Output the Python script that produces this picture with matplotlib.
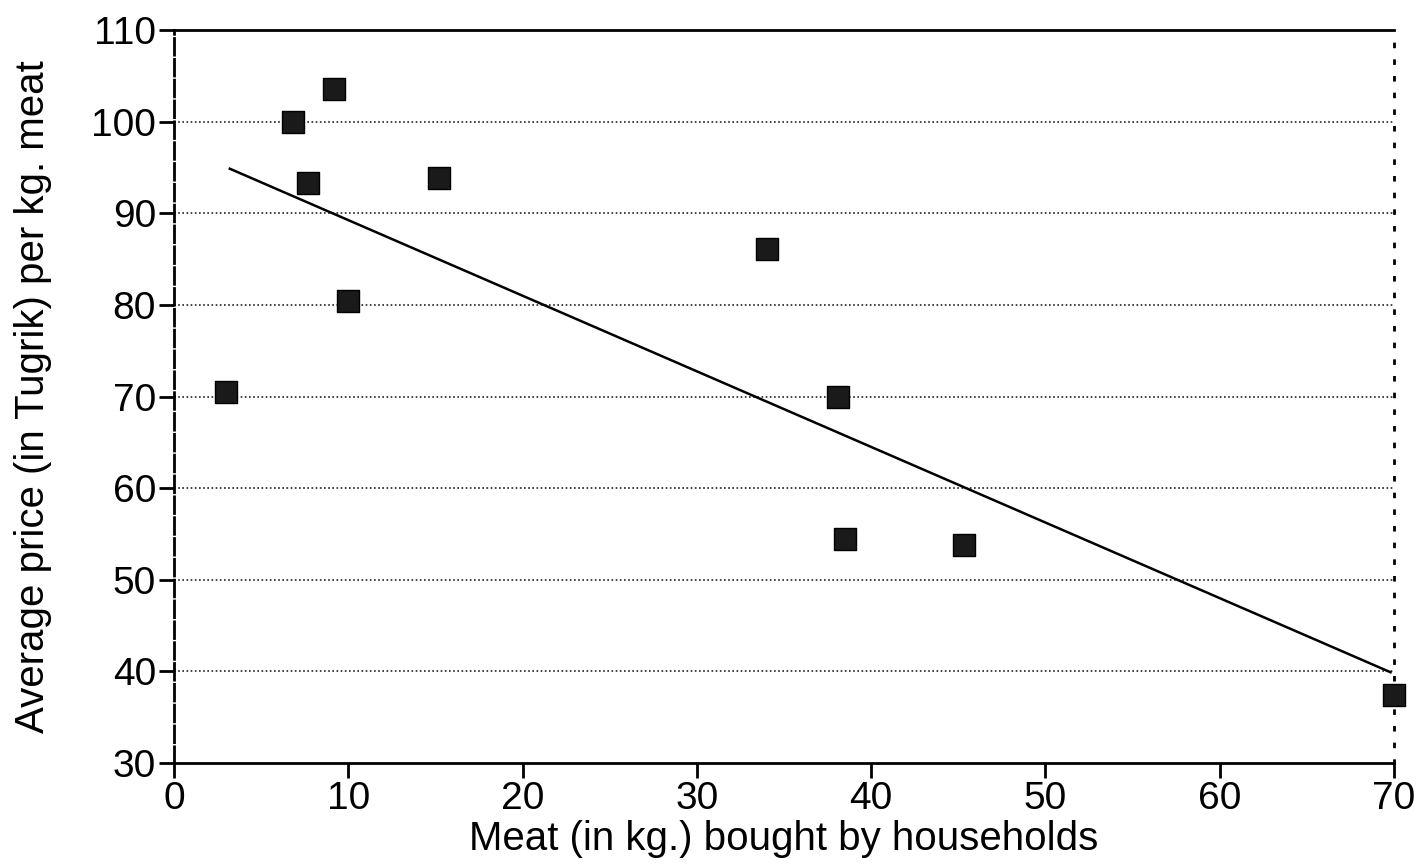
import numpy as np
import matplotlib.pyplot as plt

# meat bought (kg) and average price (Tugrik / kg)
meat_kg = [3.0, 6.8, 7.7, 9.2, 10.0, 15.2, 34.0, 38.1, 38.5, 45.3, 70.0]
price = [70.5, 100.0, 93.3, 103.6, 80.4, 93.9, 86.1, 69.9, 54.5, 53.8, 37.4]
x_ticks = [0, 10, 20, 30, 40, 50, 60, 70]
y_ticks = [30, 40, 50, 60, 70, 80, 90, 100, 110]

plt.rcParams['font.family'] = ['Liberation Sans', 'DejaVu Sans']

fig = plt.figure(figsize=(14.21, 8.64), dpi=100)
ax = fig.add_axes([0.1225, 0.117, 0.8585, 0.848])

x = np.array(meat_kg)
y = np.array(price)

# dotted horizontal grid
for v in y_ticks[1:-1]:
    ax.axhline(v, color='#222222', lw=1.2, ls=(0, (1, 1.5)), zorder=1)

# least squares line
slope, intercept = np.polyfit(x, y, 1)
xs = np.array([x.min() + 0.2, x.max() - 0.2])
ax.plot(xs, slope * xs + intercept, color='black', lw=1.8, zorder=2)

ax.scatter(x, y, marker='s', s=270, color='#1a1a1a', edgecolor='black',
           linewidth=1, zorder=3, clip_on=False)

ax.set_xlim(0, 70)
ax.set_ylim(30, 110)
ax.set_xticks(x_ticks)
ax.set_yticks(y_ticks)
ax.tick_params(axis='both', direction='out', length=11, width=2, labelsize=28, pad=2)

ax.spines['top'].set_linewidth(2)
ax.spines['bottom'].set_linewidth(2)
ax.spines['left'].set_linewidth(2)
ax.spines['left'].set_linestyle((0, (6, 1.5)))
ax.spines['right'].set_linewidth(2)
ax.spines['right'].set_linestyle((0, (1, 5)))

ax.set_xlabel('Meat (in kg.) bought by households', fontsize=29, labelpad=2)
ax.set_ylabel('Average price (in Tugrik) per kg. meat', fontsize=29, labelpad=28)

fig.savefig('out.png', dpi=100)
